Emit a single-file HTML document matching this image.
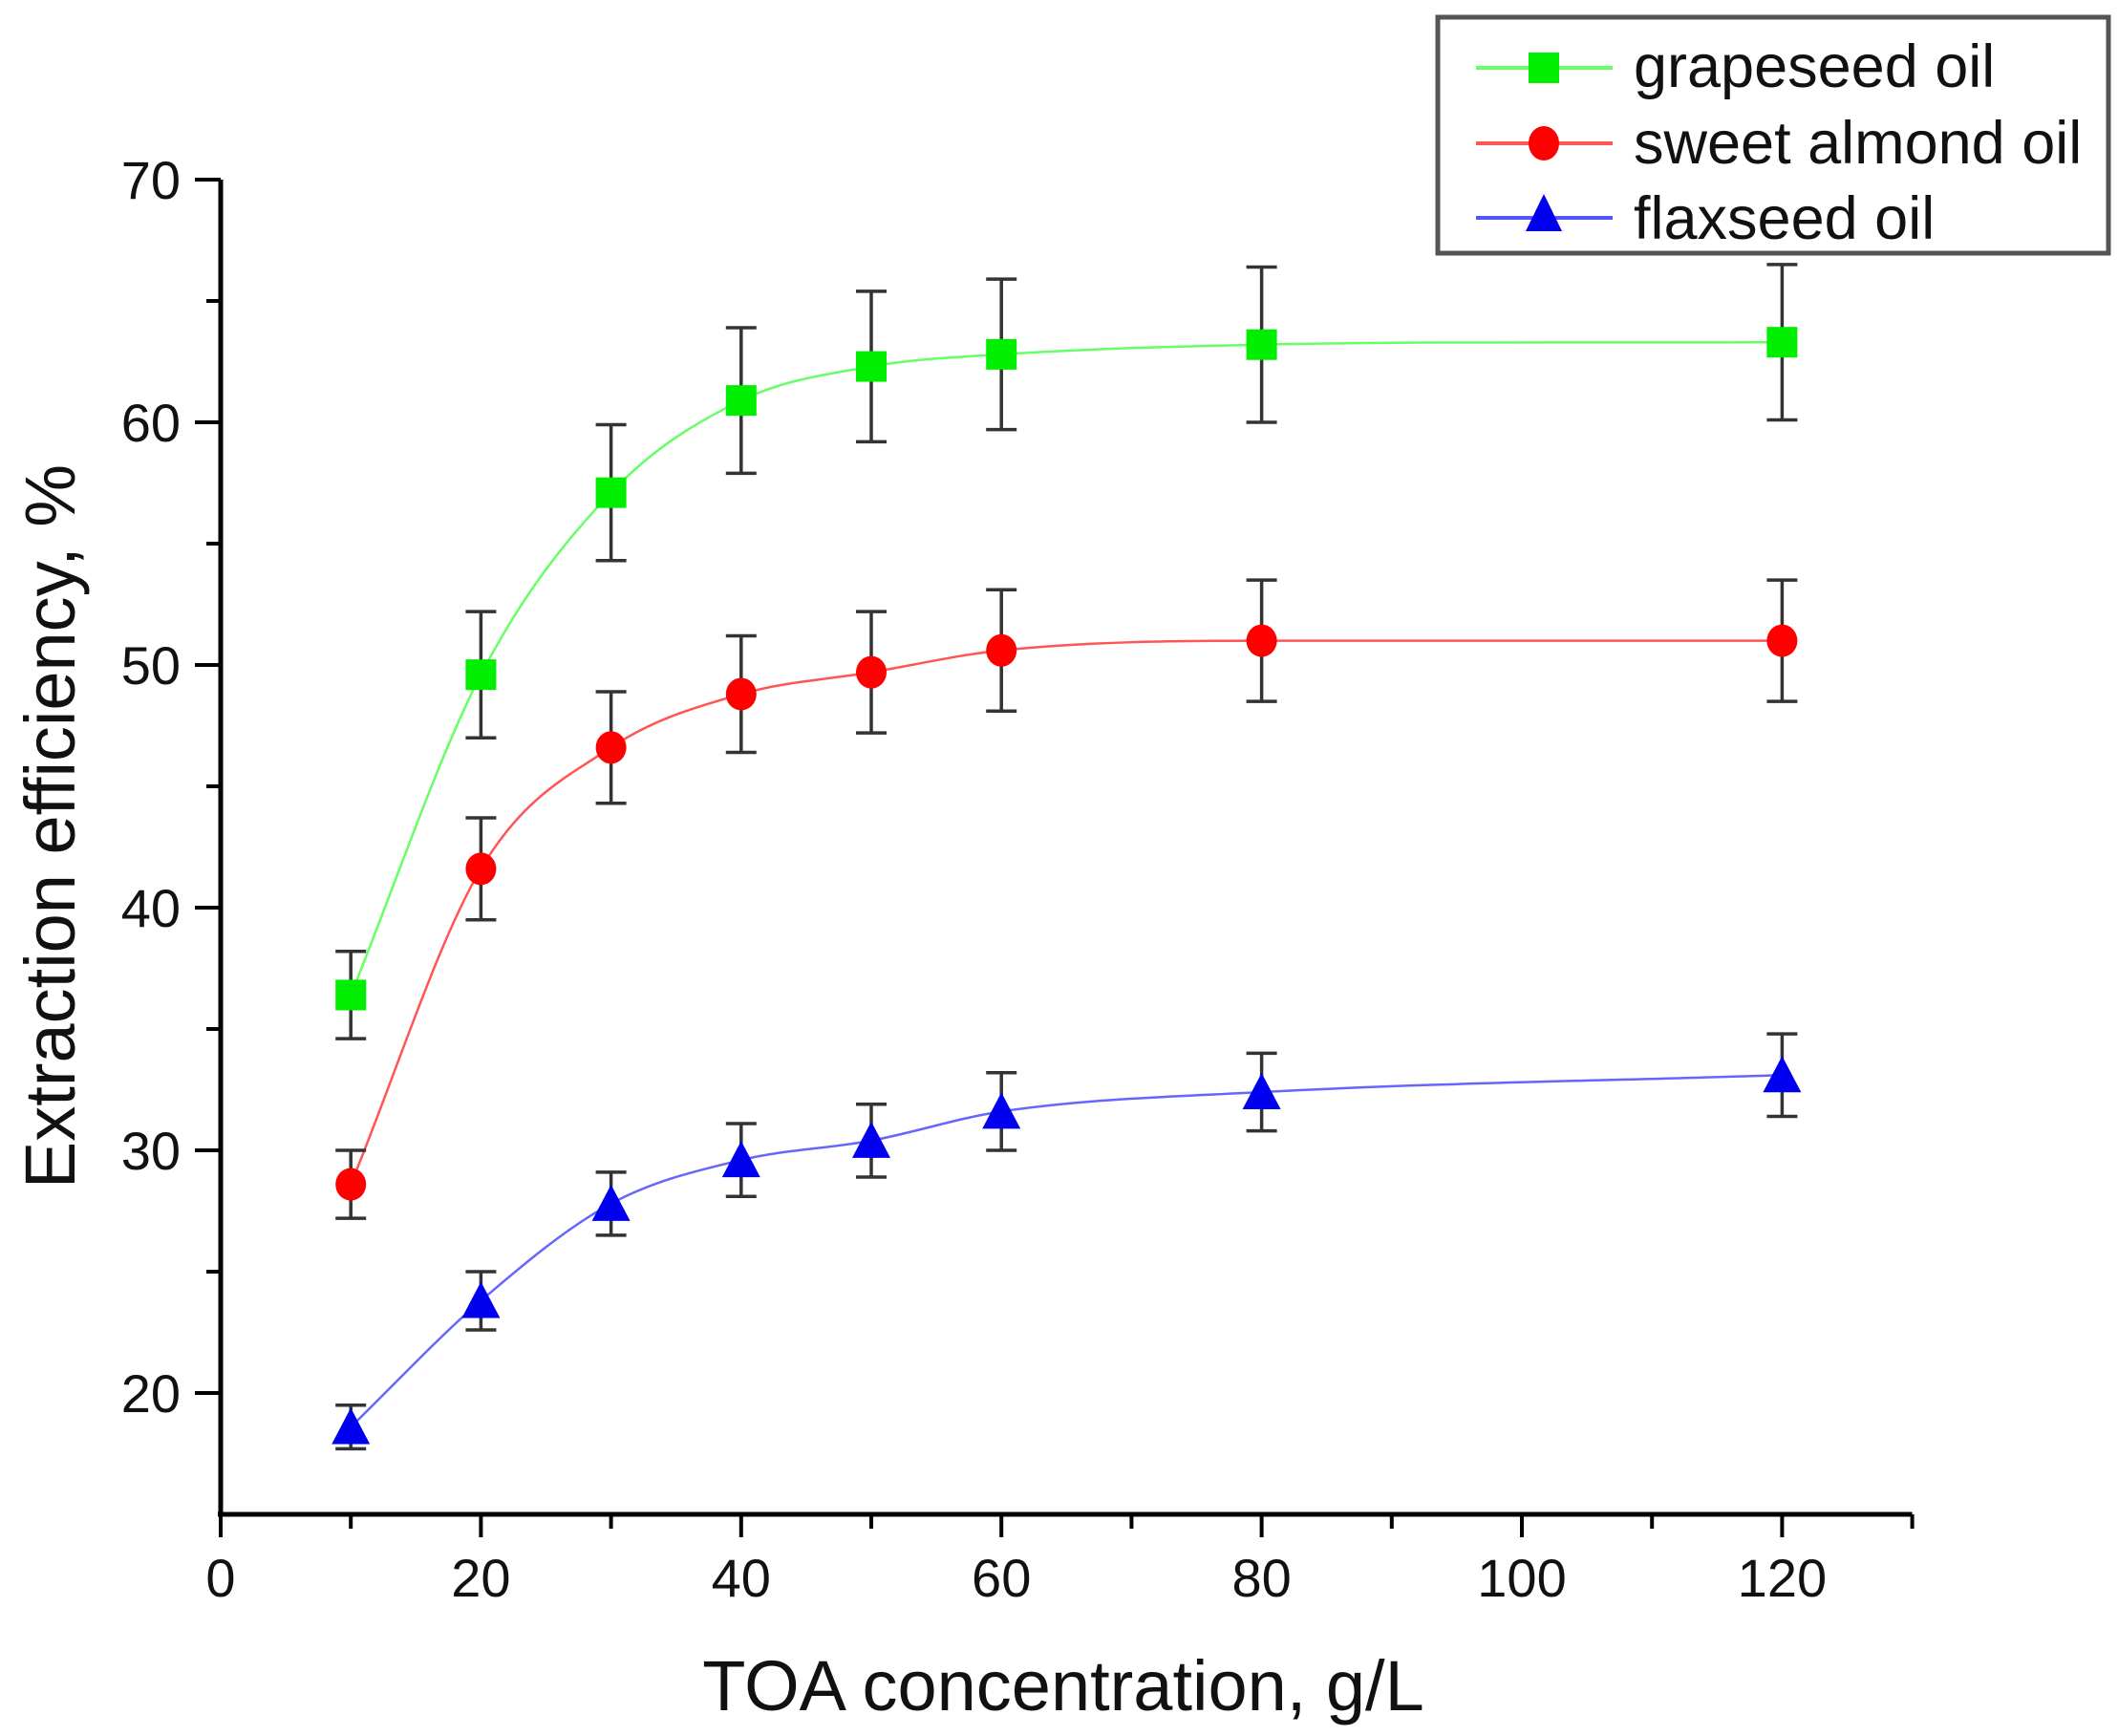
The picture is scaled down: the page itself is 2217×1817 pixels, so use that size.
<!DOCTYPE html>
<html><head><meta charset="utf-8"><style>
body{margin:0;background:#fff;}
svg{display:block;font-family:"Liberation Sans",Arial,sans-serif;}
</style></head><body>
<svg id="chart" width="2217" height="1817" viewBox="0 0 2217 1817">
<g id="axes"></g>
<g id="series"></g>
<text x="1113" y="1790" font-size="74" text-anchor="middle" fill="#111">TOA concentration, g/L</text>
<text transform="translate(78,865) rotate(-90)" font-size="74" text-anchor="middle" fill="#111">Extraction efficiency, %</text>
<g>
<rect x="1505" y="18" width="702" height="247" fill="#fff" stroke="#555" stroke-width="5"/>
<g>
<line x1="1545" y1="71" x2="1688" y2="71" stroke="#66ff66" stroke-width="4"/>
<rect x="1600" y="55" width="32" height="32" fill="#00ee00"/>
<text x="1710" y="91" font-size="63" fill="#111">grapeseed oil</text></g>
<g>
<line x1="1545" y1="150" x2="1688" y2="150" stroke="#ff5555" stroke-width="4"/>
<ellipse cx="1616" cy="150" rx="16" ry="18" fill="#ff0000"/>
<text x="1710" y="171" font-size="63" fill="#111">sweet almond oil</text></g>
<g>
<line x1="1545" y1="228" x2="1688" y2="228" stroke="#5555ff" stroke-width="4"/>
<polygon points="1616,203 1597,242 1635,242" fill="#0000ee"/>
<text x="1710" y="250" font-size="63" fill="#111">flaxseed oil</text></g>
</g>
</svg>
<script>
const xValues=[10,20,30,40,50,60,80,120];
const grapeseed=[36.4,49.6,57.1,60.9,62.3,62.8,63.2,63.3];
const grapeseedErr=[1.8,2.6,2.8,3.0,3.1,3.1,3.2,3.2];
const almond=[28.6,41.6,46.6,48.8,49.7,50.6,51.0,51.0];
const almondErr=[1.4,2.1,2.3,2.4,2.5,2.5,2.5,2.5];
const flaxseed=[18.6,23.8,27.8,29.6,30.4,31.6,32.4,33.1];
const flaxseedErr=[0.9,1.2,1.3,1.5,1.5,1.6,1.6,1.7];
const xTicks=[0,20,40,60,80,100,120];
const yTicks=[20,30,40,50,60,70];

const NS="http://www.w3.org/2000/svg";
const X0=231,XS=13.62,Y70=188,YS=25.4;
const sx=v=>X0+v*XS;
const sy=v=>Y70+(70-v)*YS;
function mk(tag,at,parent){const e=document.createElementNS(NS,tag);for(const k in at)e.setAttribute(k,at[k]);parent.appendChild(e);return e;}
const axes=document.getElementById('axes');
const ser=document.getElementById('series');
const yBot=sy(15),xEnd=sx(130);
let a=mk('line',{x1:X0,y1:sy(70),x2:X0,y2:yBot+2,stroke:'#000','stroke-width':5},axes);


a=mk('line',{x1:X0-3,y1:yBot,x2:xEnd,y2:yBot,stroke:'#000','stroke-width':5},axes);


for(let v=10;v<=130;v+=10){const maj=v%20===0;mk('line',{x1:sx(v),y1:yBot,x2:sx(v),y2:yBot+(maj?24:15),stroke:'#000','stroke-width':4},axes);}
mk('line',{x1:X0,y1:yBot,x2:X0,y2:yBot+24,stroke:'#000','stroke-width':4},axes);
xTicks.forEach(v=>{const t=mk('text',{x:sx(v),y:yBot+86,'font-size':56,'text-anchor':'middle',fill:'#111'},axes);t.textContent=v;

});
for(let v=20;v<=70;v+=5){const maj=v%10===0;mk('line',{x1:X0-(maj?27:15),y1:sy(v),x2:X0,y2:sy(v),stroke:'#000','stroke-width':4},axes);}
yTicks.forEach(v=>{const t=mk('text',{x:X0-42,y:sy(v)+20,'font-size':56,'text-anchor':'end',fill:'#111'},axes);t.textContent=v;

});

function spline(ys){
  const p=xValues.map((x,i)=>[sx(x),sy(ys[i])]);
  const n=p.length,m=[];const d=[];
  for(let i=0;i<n-1;i++)d.push((p[i+1][1]-p[i][1])/(p[i+1][0]-p[i][0]));
  for(let i=0;i<n;i++){if(i===0)m.push(d[0]);else if(i===n-1)m.push(d[n-2]);else m.push(d[i-1]*d[i]<=0?0:(d[i-1]+d[i])/2);}
  let s=`M${p[0][0]},${p[0][1]}`;
  for(let i=0;i<n-1;i++){const h=(p[i+1][0]-p[i][0])/3;
    s+=` C${p[i][0]+h},${p[i][1]+m[i]*h} ${p[i+1][0]-h},${p[i+1][1]-m[i+1]*h} ${p[i+1][0]},${p[i+1][1]}`;}
  return s;
}
function draw(name,ys,errs,line,fill,shape){
  const g=mk('g',{},ser);
  
  
  const pth=mk('path',{d:spline(ys),fill:'none',stroke:line,'stroke-width':2.5},g);
  
  
  xValues.forEach((x,i)=>{
    const cx=sx(x),cy=sy(ys[i]),t=sy(ys[i]+errs[i]),b=sy(ys[i]-errs[i]);
    const eb=mk('path',{d:`M${cx},${t}V${b}M${cx-16},${t}H${cx+16}M${cx-16},${b}H${cx+16}`,stroke:'#333','stroke-width':3.5,fill:'none'},g);
    
    
    let mkr;
    if(shape==='sq')mkr=mk('rect',{x:cx-16,y:cy-16,width:32,height:32,fill:fill},g);
    else if(shape==='ci')mkr=mk('ellipse',{cx:cx,cy:cy,rx:16,ry:17,fill:fill},g);
    else mkr=mk('polygon',{points:`${cx},${cy-20} ${cx-20},${cy+18} ${cx+20},${cy+18}`,fill:fill},g);
    
    
  });
}
draw('grapeseed',grapeseed,grapeseedErr,'#66ff66','#00ee00','sq');
draw('almond',almond,almondErr,'#ff5555','#ff0000','ci');
draw('flaxseed',flaxseed,flaxseedErr,'#6666ff','#0000ee','tri');
</script>
</body></html>
